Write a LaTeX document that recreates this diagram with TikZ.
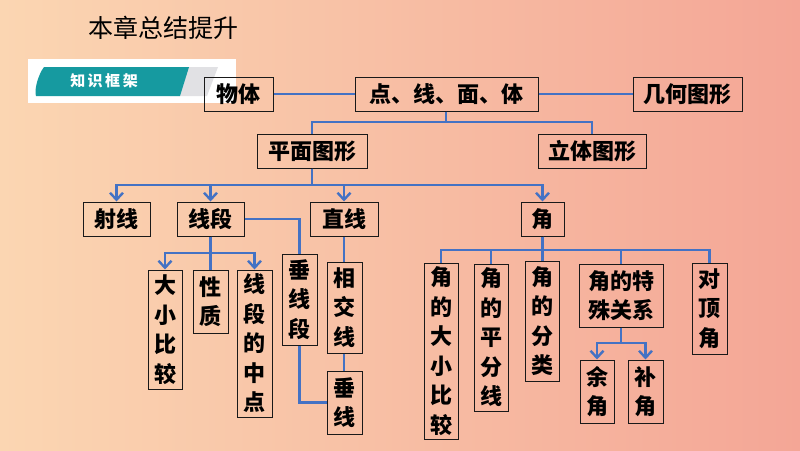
\documentclass[tikz,border=0pt]{standalone}
\usepackage{fontspec}
\newfontfamily\cjk{Noto Sans CJK SC}
\usetikzlibrary{arrows.meta}
\definecolor{bgl}{RGB}{251,214,178}
\definecolor{bgr}{RGB}{244,166,150}
\definecolor{conn}{RGB}{68,114,196}
\definecolor{teal}{RGB}{22,154,160}
\definecolor{greyband}{RGB}{225,225,228}
\tikzset{
  box/.style={draw=black!90,line width=1pt,inner sep=0pt,align=center,
    font=\cjk\bfseries\fontsize{22}{29.5}\selectfont},
  link/.style={draw=conn,line width=2.6pt},
  arr/.style={link,-{Straight Barb[length=7pt,width=13pt,line width=2.4pt]}}
}
\newcommand\bx[6]{\node[box,minimum width={#4-#2},minimum height={#5-#3}] (#1) at ({(#2+#4)/2},{(#3+#5)/2}) {#6};}
\begin{document}
\begin{tikzpicture}[x=1pt,y=-1pt]
\useasboundingbox (0,0) rectangle (800,450);
\shade[left color=bgl,right color=bgr] (0,0) rectangle (800,450);
% title
\node[font=\cjk\fontsize{25}{25}\selectfont] (title) at (163,28) {本章总结提升};
% banner
\fill[white] (28,59) rectangle (236,103);
\fill[greyband] (180,67) -- (218,67) -- (207,96) -- (170,96) -- cycle;
\fill[teal] (44,67) -- (189,67) -- (180,96) -- (36,96) .. controls (34,90) and (38,75) .. (44,67) -- cycle;
\node[font=\cjk\bfseries\fontsize{15}{15}\selectfont,text=white] (kj) at (104,81) {知\,识\,框\,架};
% boxes
\bx{wt}{204}{77}{273}{111}{物体}
\bx{dx}{355}{77}{538}{111}{点、线、面、体}
\bx{jh}{633}{77}{742}{111}{几何图形}
\bx{pm}{257}{134}{367}{168}{平面图形}
\bx{lt}{538}{134}{646}{168}{立体图形}
\bx{sx}{83}{202}{150}{236}{射线}
\bx{xd}{177}{202}{244}{236}{线段}
\bx{zx}{310}{202}{378}{236}{直线}
\bx{jiao}{521}{202}{564}{236}{角}
\bx{cxd}{282}{254}{317}{345}{垂\\线\\段}
\bx{dxbj}{148}{270}{182}{389}{大\\小\\比\\较}
\bx{xz}{193}{270}{228}{333}{性\\质}
\bx{zd}{237}{270}{272}{417}{线\\段\\的\\中\\点}
\bx{xjx}{327}{262}{362}{353}{相\\交\\线}
\bx{cx}{327}{371}{362}{434}{垂\\线}
\bx{jdx}{424}{263}{458}{439}{角\\的\\大\\小\\比\\较}
\bx{jpf}{474}{264}{508}{411}{角\\的\\平\\分\\线}
\bx{jfl}{525}{261}{559}{381}{角\\的\\分\\类}
\bx{jts}{579}{264}{663}{327}{角的特\\殊关系}
\bx{ddj}{692}{263}{727}{354}{对\\顶\\角}
\bx{yj}{580}{360}{614}{423}{余\\角}
\bx{bj}{628}{360}{663}{423}{补\\角}
% connectors
\draw[link] (wt.east) -- (dx.west);
\draw[link] (dx.east) -- (jh.west);
\draw[link] (dx.south) ++(-0.5,0) coordinate (ds) -- (ds |- 0,122) -| (pm.north);
\draw[link] (ds) -- (ds |- 0,122) -| (lt.north);
\draw[arr] (pm.south) -- (pm.south |- 0,185) -| (sx.north);
\draw[arr] (pm.south) -- (pm.south |- 0,185) -| (xd.north);
\draw[arr] (pm.south) -- (pm.south |- 0,185) -| (zx.north);
\draw[arr] (pm.south) -- (pm.south |- 0,185) -| (jiao.north);
\draw[link] (xd.east) -| (cxd.north);
\draw[link] (cxd.south) |- (cx.west);
\draw[arr] (xd.south) -- (xd.south |- 0,253) -| (dxbj.north);
\draw[arr] (xd.south) -- (xd.south |- 0,253) -| (zd.north);
\draw[link] (xd.south) -- (xz.north -| xd.south);
\draw[link] (zx.south) -- (xjx.north -| zx.south);
\draw[link] (xjx.south -| zx.south) -- (cx.north -| zx.south);
\draw[link] (jiao.south) -- (jiao.south |- 0,250) -| (jdx.north);
\draw[link] (jiao.south) -- (jiao.south |- 0,250) -| (jpf.north);
\draw[link] (jiao.south) -- (jfl.north -| jiao.south);
\draw[link] (jiao.south) -- (jiao.south |- 0,250) -| (jts.north);
\draw[link] (jiao.south) -- (jiao.south |- 0,250) -| (ddj.north);
\draw[arr] (jts.south) -- (jts.south |- 0,343) -| (yj.north);
\draw[arr] (jts.south) -- (jts.south |- 0,343) -| (bj.north);
\end{tikzpicture}
\end{document}
